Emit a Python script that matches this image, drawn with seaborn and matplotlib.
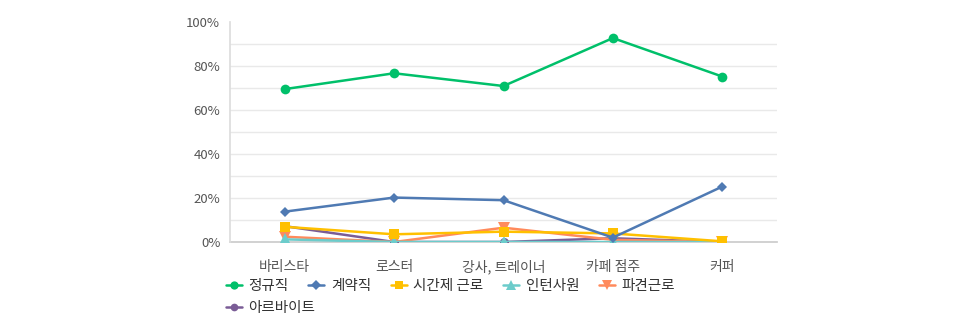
import matplotlib
matplotlib.use("Agg")
import matplotlib.pyplot as plt
import seaborn as sns
import pandas as pd
from matplotlib.ticker import FixedLocator
from matplotlib.lines import Line2D
from matplotlib.font_manager import FontProperties

categories = ["바리스타", "로스터", "강사, 트레이너", "카페 점주", "커퍼"]
series_names = ["정규직", "계약직", "시간제 근로", "인턴사원", "파견근로", "아르바이트"]
v_regular = [69.5, 76.7, 70.9, 92.7, 75.2]
v_contract = [13.8, 20.2, 19.0, 2.0, 25.2]
v_parttime = [6.9, 3.5, 4.7, 3.9, 0.3]
v_intern = [1.2, 0.0, 0.0, 0.0, 0.0]
v_dispatch = [2.4, 0.0, 6.5, 1.0, 0.0]
v_albeit = [7.2, 0.0, 0.0, 1.7, 0.0]
series_values = [v_regular, v_contract, v_parttime, v_intern, v_dispatch, v_albeit]

colors = ["#00c06a", "#4f7ab3", "#ffc000", "#6ccccb", "#ff8a5c", "#7a5c96"]
markers = ["o", "D", "s", "^", "v", "o"]
msizes = [7, 5.5, 7.5, 8, 8, 6.5]

rows = []
for name, vals in zip(series_names, series_values):
    for i, (c, v) in enumerate(zip(categories, vals)):
        rows.append({"직종": c, "x": i, "값": v, "형태": name})
df = pd.DataFrame(rows)

sns.set_theme(style="white")
plt.rcParams["font.family"] = ["Noto Sans CJK KR", "DejaVu Sans"]

fig = plt.figure(figsize=(9.74, 3.32), dpi=100)
ax = fig.add_axes([230/974, 1-242/332, (777-230)/974, 220/332])

for k, (name, c, m, ms) in enumerate(zip(series_names, colors, markers, msizes)):
    sub = df[df["형태"] == name]
    sns.lineplot(data=sub, x="x", y="값", color=c, marker=m, markersize=ms,
                 linewidth=1.8, markeredgewidth=0, ax=ax, legend=False,
                 zorder=10 - k)

ax.set_xlim(-0.5, 4.5)
ax.set_ylim(0, 100)
ax.set_xticks(range(len(categories)))
ax.set_xticklabels(categories)
ax.yaxis.set_major_locator(FixedLocator([0, 20, 40, 60, 80, 100]))
ax.set_yticklabels([f"{t}%" for t in [0, 20, 40, 60, 80, 100]])
for g in range(10, 100, 10):
    ax.axhline(g, color="#e9e9e9", linewidth=1, zorder=0)
ax.set_xlabel("")
ax.set_ylabel("")
ax.tick_params(axis="both", length=0, labelsize=10, colors="#555555")
ax.tick_params(axis="y", labelsize=9.5, pad=7)
ax.tick_params(axis="x", pad=13)
for s in ["top", "right"]:
    ax.spines[s].set_visible(False)
ax.spines["left"].set_color("#dddddd")
ax.spines["bottom"].set_color("#cccccc")
ax.spines["bottom"].set_zorder(0.5)

handles = [Line2D([0], [0], color=c, marker=m, markersize=ms * 0.85, linewidth=1.8, markeredgewidth=0)
           for c, m, ms in zip(colors, markers, msizes)]
lprop = FontProperties(family=["Noto Sans CJK KR", "DejaVu Sans"], weight="normal", size=10.5)
leg_kw = dict(loc="upper left", frameon=False, prop=lprop, handlelength=1.1,
              handletextpad=0.45, columnspacing=1.35, borderaxespad=0, borderpad=0,
              labelcolor="#333333")
fig.legend(handles[:5], series_names[:5], bbox_to_anchor=(226/974, 1-279/332),
           ncol=5, **leg_kw)
fig.legend(handles[5:], series_names[5:], bbox_to_anchor=(226/974, 1-301/332),
           ncol=1, **leg_kw)

fig.savefig("out.png", dpi=100)
